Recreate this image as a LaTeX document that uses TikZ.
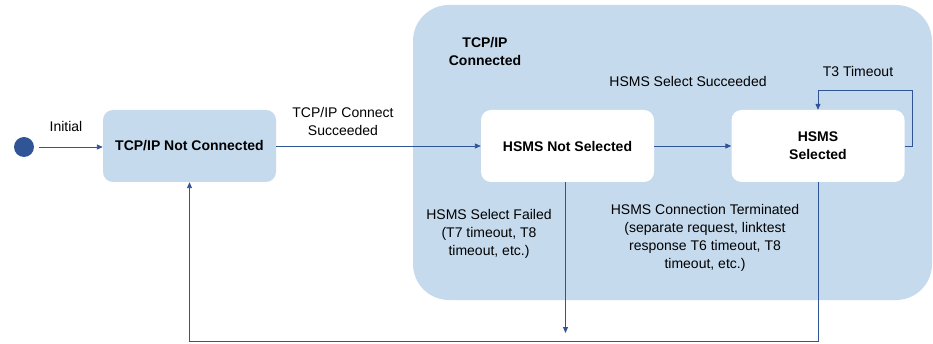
\documentclass[tikz,border=0pt]{standalone}
\usepackage{fontspec}
\setmainfont{Liberation Sans}
\usetikzlibrary{arrows.meta}
\definecolor{lblue}{HTML}{C5DAED}
\definecolor{dblue}{HTML}{2F5597}
\tikzset{
  statebox/.style={rounded corners=10pt, minimum width=173pt, minimum height=72pt, align=center, font=\fontsize{14}{18}\selectfont\bfseries, inner sep=0pt},
  lbl/.style={align=center, font=\fontsize{14}{18}\selectfont, inner sep=0pt},
  conn/.style={draw=dblue, line width=0.9pt, -{Triangle[length=6pt,width=5pt]}},
}
\begin{document}
\begin{tikzpicture}[x=1pt,y=-1pt]
\useasboundingbox (0,0) rectangle (933,344);
% container
\node[fill=lblue, rounded corners=36pt, minimum width=519pt, minimum height=295pt, inner sep=0pt] (cont) at (672.5,152.5) {};
\node[lbl, font=\fontsize{14}{18}\selectfont\bfseries] (contlbl) at (485,52) {TCP/IP\\Connected};
% initial
\node[circle, fill=dblue, minimum size=20pt, inner sep=0pt] (init) at (24,147) {};
\node[statebox, fill=lblue] (nc) at (189.5,146) {TCP/IP Not Connected};
\node[statebox, fill=white] (nsel) at (567.5,146) {HSMS Not Selected};
\node[statebox, fill=white] (sel) at (818,146) {HSMS\\Selected};
% labels
\node[lbl] (linit) at (66,126) {Initial};
\node[lbl] (lconn) at (343,121) {TCP/IP Connect\\Succeeded};
\node[lbl] (lselok) at (688,81) {HSMS Select Succeeded};
\node[lbl] (lt3) at (858,71) {T3 Timeout};
\node[lbl] (lfail) at (489,234) {HSMS Select Failed\\(T7 timeout, T8\\timeout, etc.)};
\node[lbl] (lterm) at (705,238) {HSMS Connection Terminated\\(separate request, linktest\\response T6 timeout, T8\\timeout, etc.)};
% connectors
\coordinate (bot) at (0,341);
\coordinate (failend) at (0,333);
\coordinate (initout) at (39,147);
\draw[conn] (initout) -- (nc.west |- initout);
\draw[conn] (nc.east) -- (nsel.west);
\draw[conn] (nsel.east) -- (sel.west);
\draw[conn] (sel.east) -- ++(8,0) |- ([yshift=19pt]sel.north) -- (sel.north);
\draw[conn] ([xshift=-2pt]nsel.south) -- ([xshift=-2pt]nsel.south |- failend);
\draw[conn] (sel.south) -- (sel.south |- bot) -| (nc.south);
\end{tikzpicture}
\end{document}
